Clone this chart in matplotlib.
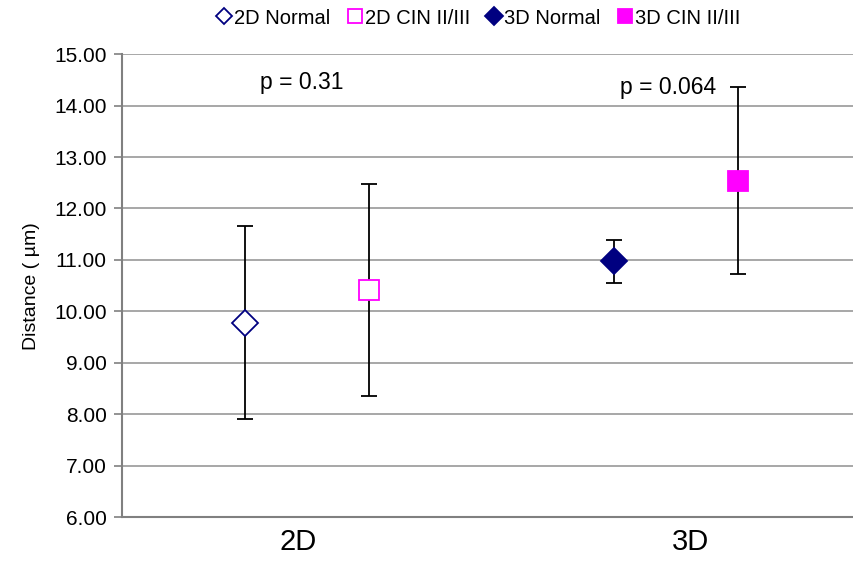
import matplotlib.pyplot as plt
from matplotlib.lines import Line2D

plt.rcParams['font.family'] = ['Liberation Sans', 'DejaVu Sans']

# data
groups = ["2D", "3D"]
series = ["2D Normal", "2D CIN II/III", "3D Normal", "3D CIN II/III"]
means = [9.78, 10.41, 10.97, 12.54]
errs = [1.88, 2.06, 0.42, 1.82]
group_of = [0, 0, 1, 1]
offsets = [-0.168, 0.168, -0.168, 0.168]
p_labels = ["p = 0.31", "p = 0.064"]
p_x = [0.985, 1.98]
p_y = [14.45, 14.36]

navy = "#000080"
magenta = "#ff00ff"
styles = [
    dict(marker="D", mfc="white", mec=navy, ms=13, mew=1.3),
    dict(marker="s", mfc="white", mec=magenta, ms=15, mew=1.3),
    dict(marker="D", mfc=navy, mec=navy, ms=13, mew=1.3),
    dict(marker="s", mfc=magenta, mec=magenta, ms=15, mew=1.3),
]

fig = plt.figure(figsize=(8.54, 5.64), dpi=100)
ax = fig.add_axes([0.143, 0.083, 0.857, 0.821])

for i in range(len(series)):
    x = group_of[i] + 1 + offsets[i]
    ax.errorbar(x, means[i], yerr=errs[i], fmt="none", ecolor="black",
                elinewidth=1.3, capsize=5.5, capthick=1.3, zorder=2)
    ax.plot(x, means[i], linestyle="none", zorder=3, **styles[i])

for i, lab in enumerate(p_labels):
    ax.text(p_x[i], p_y[i], lab, ha="center", va="center", fontsize=16.5)

ax.set_ylim(6, 15)
ax.set_xlim(0.498, 2.484)
ax.set_yticks(range(6, 16))
ax.set_yticklabels([f"{v:.2f}" for v in range(6, 16)], fontsize=15)
ax.set_xticks([1 - 0.024, 2 + 0.04])
ax.set_xticklabels(groups, fontsize=21)
ax.tick_params(axis="x", length=0, pad=8)
ax.tick_params(axis="y", length=6, color="#808080", width=1.2, pad=5)
ax.set_ylabel("Distance ( µm)", fontsize=14, labelpad=10)

ax.yaxis.grid(True, color="#a0a0a0", linewidth=1.3)
ax.set_axisbelow(True)
for s in ["top", "right"]:
    ax.spines[s].set_visible(False)
ax.spines["left"].set_color("#808080")
ax.spines["left"].set_linewidth(1.5)
ax.spines["bottom"].set_color("#808080")
ax.spines["bottom"].set_linewidth(1.5)

legend_ms = [8, 9.5, 9, 10]
handles = [Line2D([], [], linestyle="none", **dict(s, ms=legend_ms[i]))
           for i, s in enumerate(styles)]
fig.legend(handles, series, loc="center", bbox_to_anchor=(0.561, 0.968), ncol=4,
           frameon=False, fontsize=14.5, handlelength=0.6, handletextpad=0.2,
           columnspacing=0.9)

fig.savefig("out.png", dpi=100)
